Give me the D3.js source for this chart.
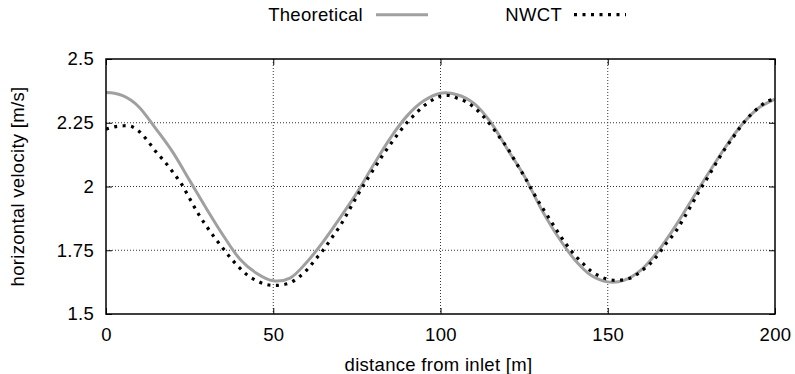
<!DOCTYPE html>
<html>
<head>
<meta charset="utf-8">
<script src="https://cdn.jsdelivr.net/npm/d3@7"></script>
<style>
  html, body { margin: 0; padding: 0; background: #fff; }
  svg { display: block; font-family: "Liberation Sans", Arial, sans-serif; }
</style>
</head>
<body>
<svg id="chart" width="795" height="374"></svg>
<script>
// ---- data ----
const theoreticalX = [0,2.5,5,7.5,10,15,20,25,30,35,40,45,50,55,60,65,70,75,80,85,90,95,100,105,110,115,120,125,130,135,140,145,150,155,160,165,170,175,180,185,190,195,200];
const theoreticalY = [2.369,2.366,2.356,2.338,2.310,2.225,2.134,2.024,1.914,1.809,1.716,1.660,1.630,1.641,1.703,1.785,1.878,1.975,2.085,2.190,2.277,2.336,2.366,2.360,2.326,2.252,2.146,2.042,1.915,1.806,1.715,1.652,1.626,1.633,1.673,1.746,1.840,1.945,2.050,2.151,2.241,2.307,2.343];

const nwctX = [0,2.5,5,7.5,10,12.5,15,17.5,20,22.5,25,27.5,30,32.5,35,37.5,40,42.5,45,47.5,50,52.5,55,57.5,60,62.5,65,67.5,70,72.5,75,77.5,80,82.5,85,87.5,90,92.5,95,97.5,100,102.5,105,107.5,110,112.5,115,117.5,120,122.5,125,127.5,130,132.5,135,137.5,140,142.5,145,147.5,150,152.5,155,157.5,160,162.5,165,167.5,170,172.5,175,177.5,180,182.5,185,187.5,190,192.5,195,197.5,200];
const nwctY = [2.225,2.234,2.238,2.236,2.215,2.178,2.135,2.098,2.056,2.011,1.953,1.895,1.845,1.799,1.757,1.716,1.680,1.650,1.631,1.617,1.612,1.614,1.622,1.643,1.672,1.712,1.752,1.799,1.846,1.903,1.961,2.016,2.067,2.118,2.165,2.210,2.251,2.285,2.316,2.339,2.354,2.357,2.346,2.333,2.311,2.279,2.241,2.196,2.151,2.095,2.041,1.982,1.926,1.875,1.823,1.775,1.733,1.699,1.669,1.649,1.636,1.632,1.635,1.645,1.668,1.695,1.732,1.777,1.817,1.870,1.927,1.985,2.038,2.094,2.147,2.193,2.240,2.278,2.308,2.333,2.343];

const xTicks = [0, 50, 100, 150, 200];
const yTicks = [1.5, 1.75, 2, 2.25, 2.5];
const yTickLabels = ["1.5", "1.75", "2", "2.25", "2.5"];
const seriesNames = ["Theoretical", "NWCT"];
const xTitle = "distance from inlet [m]";
const yTitle = "horizontal velocity [m/s]";

// ---- layout ----
const L = 106, R = 775, T = 59, B = 314;
const svg = d3.select("#chart");
const x = d3.scaleLinear().domain([0, 200]).range([L, R]);
const y = d3.scaleLinear().domain([1.5, 2.5]).range([B, T]);
const fs = "18.5px";
const ls = "0.3px";

// grid
const grid = svg.append("g");
grid.selectAll("line.vx").data(xTicks.slice(1, -1)).join("line")
  .attr("x1", d => x(d)).attr("x2", d => x(d)).attr("y1", T).attr("y2", B)
  .attr("stroke", "#333").attr("stroke-width", 1).attr("stroke-dasharray", "1,2");
grid.selectAll("line.hy").data(yTicks.slice(1, -1)).join("line")
  .attr("x1", L).attr("x2", R).attr("y1", d => y(d)).attr("y2", d => y(d))
  .attr("stroke", "#333").attr("stroke-width", 1).attr("stroke-dasharray", "1,2");

// axes (ticks inward, on all sides)
const tickLen = 6;
const xAxisB = svg.append("g").attr("transform", `translate(0,${B})`)
  .call(d3.axisBottom(x).tickValues(xTicks).tickSize(-tickLen).tickPadding(14).tickFormat(d3.format("d")));
const xAxisT = svg.append("g").attr("transform", `translate(0,${T})`)
  .call(d3.axisTop(x).tickValues(xTicks).tickSize(-tickLen).tickFormat(""));
const yAxisL = svg.append("g").attr("transform", `translate(${L},0)`)
  .call(d3.axisLeft(y).tickValues(yTicks).tickSize(-tickLen).tickPadding(12).tickFormat((d, i) => yTickLabels[i]));
const yAxisR = svg.append("g").attr("transform", `translate(${R},0)`)
  .call(d3.axisRight(y).tickValues(yTicks).tickSize(-tickLen).tickFormat(""));
[xAxisB, xAxisT, yAxisL, yAxisR].forEach(g => {
  g.select(".domain").remove();
  g.selectAll(".tick line").attr("stroke", "#000").attr("stroke-width", 1);
  g.selectAll("text").attr("font-size", fs).attr("fill", "#000").attr("letter-spacing", ls)
    .attr("font-family", "Liberation Sans, Arial, sans-serif");
});

// lines
svg.append("clipPath").attr("id", "clip").append("rect")
  .attr("x", L).attr("y", T).attr("width", R - L).attr("height", B - T);
const lineGen = d3.line().x(d => x(d[0])).y(d => y(d[1])).curve(d3.curveCatmullRom.alpha(0.5));
const theo = theoreticalX.map((v, i) => [v, theoreticalY[i]]);
const nwct = nwctX.map((v, i) => [v, nwctY[i]]);

const plot = svg.append("g").attr("clip-path", "url(#clip)");
plot.append("path").datum(theo).attr("d", lineGen)
  .attr("fill", "none").attr("stroke", "#a0a0a0").attr("stroke-width", 3);
plot.append("path").datum(nwct).attr("d", lineGen)
  .attr("fill", "none").attr("stroke", "#000").attr("stroke-width", 3.2)
  .attr("stroke-dasharray", "3,5.5");

// frame
svg.append("rect").attr("x", L).attr("y", T).attr("width", R - L).attr("height", B - T)
  .attr("fill", "none").attr("stroke", "#000").attr("stroke-width", 1.5);

// axis titles
svg.append("text").attr("x", (L + R) / 2 - 2).attr("y", 371).attr("text-anchor", "middle")
  .attr("font-size", fs).attr("letter-spacing", ls).text(xTitle);
svg.append("text").attr("transform", `translate(24,${(T + B) / 2}) rotate(-90)`)
  .attr("text-anchor", "middle").attr("font-size", fs).attr("letter-spacing", ls).text(yTitle);

// legend
const leg = svg.append("g");
leg.append("text").attr("x", 363).attr("y", 20.7).attr("text-anchor", "end")
  .attr("font-size", fs).attr("letter-spacing", ls).text(seriesNames[0]);
leg.append("line").attr("x1", 376).attr("x2", 428).attr("y1", 14.7).attr("y2", 14.7)
  .attr("stroke", "#a0a0a0").attr("stroke-width", 3);
leg.append("text").attr("x", 562).attr("y", 20.7).attr("text-anchor", "end")
  .attr("font-size", fs).attr("letter-spacing", ls).text(seriesNames[1]);
leg.append("line").attr("x1", 574).attr("x2", 626).attr("y1", 14.7).attr("y2", 14.7)
  .attr("stroke", "#000").attr("stroke-width", 3.2).attr("stroke-dasharray", "3,5.5");
</script>
</body>
</html>
